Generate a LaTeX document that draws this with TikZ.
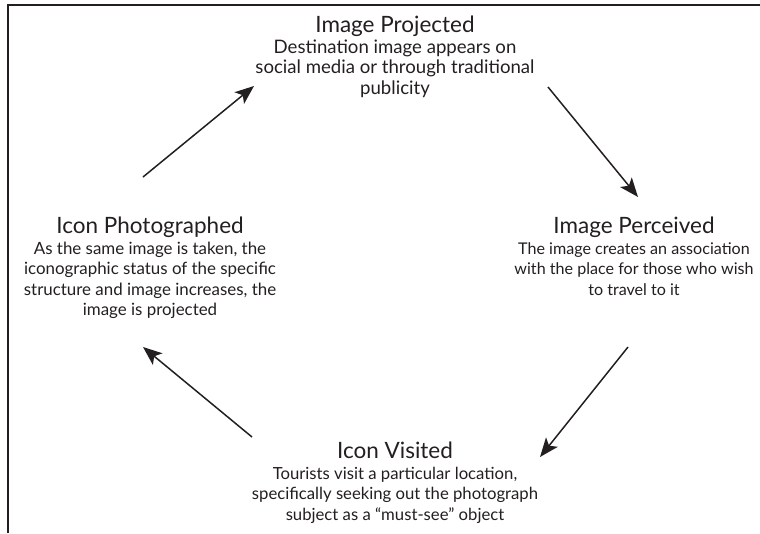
\documentclass[tikz,border=0pt]{standalone}
\usepackage{fontspec}
\setmainfont{Lato}
\usetikzlibrary{arrows.meta}

\definecolor{ink}{HTML}{231F20}
\newcommand{\stagetitle}[1]{{\fontsize{22.5}{24}\selectfont #1}}

\begin{document}
\begin{tikzpicture}[x=1pt, y=-1pt,
	stage/.style={align=center, inner sep=0pt, anchor=north, text=ink,
		font=\fontsize{#1}{20.5}\selectfont},
	stage/.default=17,
	flow/.style={draw=ink, line width=1.5pt, -{Stealth[length=19pt, width=15pt, inset=4.5pt]}}]
	\useasboundingbox (0,0) rectangle (760,533);
	\draw[ink, line width=1.5pt] (8,533) -- (8,5) -- (760,5);
	\node[stage=18.6] (proj) at (395,16) {\stagetitle{Image Projected}\\Destination image appears on\\social media or through traditional\\publicity};
	\node[stage=16.1] (perc) at (634,217) {\stagetitle{Image Perceived}\\The image creates an association\\with the place for those who wish\\to travel to it};
	\node[stage=16.7] (visit) at (395,442) {\stagetitle{Icon Visited}\\Tourists visit a particular location,\\specifically seeking out the photograph\\subject as a ``must-see'' object};
	\node[stage=16.9] (photo) at (150,217) {\stagetitle{Icon Photographed}\\As the same image is taken, the\\iconographic status of the specific\\structure and image increases, the\\image is projected};
	\draw[flow] ([shift={(-7,-40)}]photo.north) -- ([shift={(-141,70)}]proj.north);
	\draw[flow] ([shift={(153,71)}]proj.north) -- ([shift={(4,-20)}]perc.north);
	\draw[flow] ([shift={(-6,130)}]perc.north) -- ([shift={(145,15)}]visit.north);
	\draw[flow] ([shift={(-143,-5)}]visit.north) -- ([shift={(-7,130)}]photo.north);
\end{tikzpicture}
\end{document}
